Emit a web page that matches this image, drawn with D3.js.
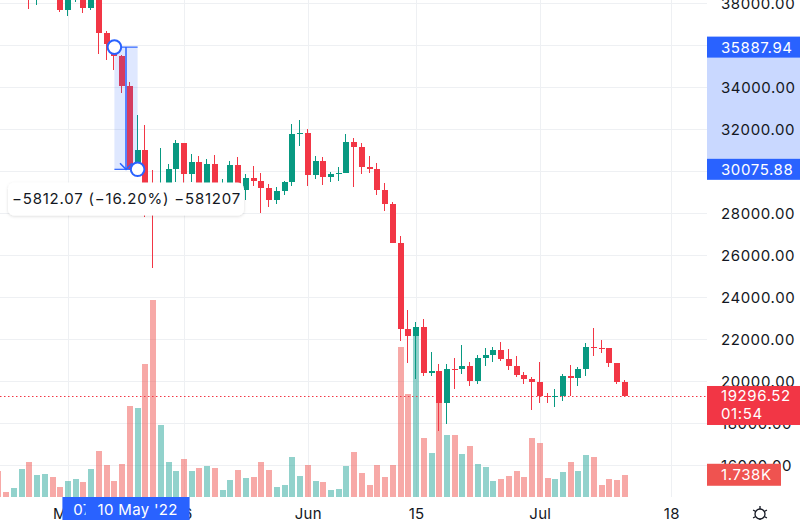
<!DOCTYPE html>
<html><head><meta charset="utf-8">
<script src="https://cdn.jsdelivr.net/npm/d3@7"></script>
<style>
html,body{margin:0;padding:0;background:#fff;overflow:hidden}
svg{display:block;font-family:Inter,"Noto Sans",sans-serif}
</style></head><body>
<svg id="c" width="800" height="520"></svg>
<script>
// ---------- DATA (daily candles) ----------
const dates = [
"2022-04-22","2022-04-23","2022-04-24","2022-04-25","2022-04-26","2022-04-27","2022-04-28","2022-04-29","2022-04-30",
"2022-05-01","2022-05-02","2022-05-03","2022-05-04","2022-05-05","2022-05-06","2022-05-07","2022-05-08","2022-05-09","2022-05-10",
"2022-05-11","2022-05-12","2022-05-13","2022-05-14","2022-05-15","2022-05-16","2022-05-17","2022-05-18","2022-05-19","2022-05-20",
"2022-05-21","2022-05-22","2022-05-23","2022-05-24","2022-05-25","2022-05-26","2022-05-27","2022-05-28","2022-05-29","2022-05-30","2022-05-31",
"2022-06-01","2022-06-02","2022-06-03","2022-06-04","2022-06-05","2022-06-06","2022-06-07","2022-06-08","2022-06-09","2022-06-10",
"2022-06-11","2022-06-12","2022-06-13","2022-06-14","2022-06-15","2022-06-16","2022-06-17","2022-06-18","2022-06-19","2022-06-20",
"2022-06-21","2022-06-22","2022-06-23","2022-06-24","2022-06-25","2022-06-26","2022-06-27","2022-06-28","2022-06-29","2022-06-30",
"2022-07-01","2022-07-02","2022-07-03","2022-07-04","2022-07-05","2022-07-06","2022-07-07","2022-07-08","2022-07-09","2022-07-10",
"2022-07-11","2022-07-12"];
const opens = [
40381,39678,39410,39470,40458,38113,39236,39742,38597,
37630,38468,38525,37729,39690,36552,36014,35468,34039,30077,
31017,29103,29030,29287,30087,31329,29874,30444,28716,30319,
29201,29446,30294,29110,29655,29543,29202,28629,29031,29468,31734,
31802,29799,30468,29704,29833,29907,31371,31125,30205,30110,
29092,28424,26575,22485,22136,22583,20401,20468,18970,20574,
20573,20723,19987,21110,21237,21492,21038,20743,20281,20124,
19942,19279,19252,19315,20236,20175,20564,21624,21594,21591,
20862,19963];
const highs = [
40798,39980,39940,40616,40797,39474,40372,39925,38795,
38675,39167,38651,39980,39845,36675,36146,35510,34243,32659,
32162,30033,31083,30343,31460,31330,30788,30709,30545,30777,
29618,30487,30672,29830,30223,29883,29400,29250,29530,32222,32399,
31982,30689,30675,29938,30179,31765,31555,31328,30698,30386,
29440,28544,26895,23363,22800,22980,21365,20815,20815,21090,
21723,20900,21233,21558,21614,21868,21540,21200,20432,20179,
20918,19462,19648,20354,20750,20675,21838,22527,21951,21592,
20868,20059];
const lows = [
39177,39285,38929,38200,37702,37881,38881,38175,37578,
37387,38052,37500,37670,35571,35258,34785,33713,30034,29730,
27785,25380,28751,28630,29481,29088,29450,28655,28693,28730,
28947,29255,28866,28634,29295,28020,28282,28450,28839,29300,31200,
29300,29594,29351,29485,29523,29880,29219,29843,29921,28850,
28100,26560,21925,20846,20111,20233,20246,17622,17960,19637,
20348,19771,19890,20740,20906,20960,20510,20187,19854,18626,
18975,18978,18781,19055,19305,19762,20257,21189,21338,20653,
19882,19296];
const closes = [
39678,39410,39470,40458,38113,39236,39742,38597,37630,
38468,38525,37729,39690,36552,36014,35468,34039,30077,31017,
29103,29030,29287,30087,31329,29874,30444,28716,30319,29201,
29446,30294,29110,29655,29543,29202,28629,29031,29468,31734,31802,
29799,30468,29704,29833,29907,31371,31125,30205,30110,29092,
28424,26575,22487,22136,22583,20401,20468,18970,20574,20573,
20723,19987,21110,21237,21492,21038,20743,20281,20124,19942,
19279,19252,19315,20236,20175,20564,21624,21594,21591,20862,
19963,19296.52];
// volume in thousands
const volumes = [
2.06,0.38,0.70,2.18,2.78,1.72,1.80,1.56,0.74,
1.24,1.40,1.16,2.22,3.64,2.52,1.24,2.60,7.28,7.08,
10.60,15.72,5.72,2.78,2.04,3.00,2.06,2.28,2.44,2.28,
0.52,1.32,2.12,1.46,1.56,2.76,2.10,0.74,0.92,3.16,1.62,
2.52,1.22,1.16,0.52,0.60,2.44,3.54,1.86,0.92,2.50,
1.56,2.50,11.98,8.18,13.08,4.72,3.46,8.52,4.92,4.92,
3.44,4.04,2.60,2.38,1.22,1.40,1.62,2.04,1.56,4.68,
4.26,1.46,1.40,1.98,2.78,2.06,3.30,3.18,0.90,1.40,
1.34,1.738];
const priceTicks = [16000,18000,20000,22000,24000,26000,28000,30000,32000,34000,36000,38000];
const timeTickDates = ["2022-05-01","2022-05-16","2022-06-01","2022-06-15","2022-07-01","2022-07-18"];
const timeTickLabels = ["May","16","Jun","15","Jul","18"];
const measureDates = ["2022-05-07","2022-05-10"];
const measurePrices = [35887.94, 30075.88];
const measureDateLabels = ["07 May '22","10 May '22"];
const measureText = "\u22125812.07 (\u221216.20%) \u2212581207";
const lastPrice = 19296.52;
const lastPriceLabel = "19296.52";
const countdown = "01:54";
const lastVolumeLabel = "1.738K";

// ---------- LAYOUT ----------
const W = 800, H = 520, plotR = 707, volBase = 496.5;
const UP = "#089981", DOWN = "#f23645", BLUE = "#2962ff", TXT = "#131722", GRID = "#eef0f3";
const LS = 0.6;
const parse = d3.utcParse("%Y-%m-%d");
const x = d3.scaleUtc().domain([parse("2022-05-01"), parse("2022-07-18")]).range([68, 671.3]);
const y = d3.scaleLinear().domain([16000, 38000]).range([465.3, 2.7]);
const yv = d3.scaleLinear().domain([0, 16]).range([volBase, volBase - 200]);
const fmt = d3.format(".2f");

const svg = d3.select("#c");
svg.append("rect").attr("width", W).attr("height", H).attr("fill", "#fff");

// grid
const grid = svg.append("g").attr("shape-rendering", "crispEdges");
grid.selectAll("line.h").data(priceTicks).join("line")
  .attr("x1", 0).attr("x2", plotR)
  .attr("y1", d => Math.round(y(d)) + 0.5).attr("y2", d => Math.round(y(d)) + 0.5)
  .attr("stroke", GRID);
grid.selectAll("line.v").data(timeTickDates).join("line")
  .attr("x1", d => Math.round(x(parse(d))) + 0.5).attr("x2", d => Math.round(x(parse(d))) + 0.5)
  .attr("y1", 0).attr("y2", volBase)
  .attr("stroke", GRID);

const data = dates.map((d, i) => ({
  date: parse(d), o: opens[i], h: highs[i], l: lows[i], c: closes[i], v: volumes[i]
}));

// volume bars
svg.append("g").attr("shape-rendering", "crispEdges")
  .selectAll("rect").data(data).join("rect")
  .attr("x", d => Math.round(x(d.date) - 3))
  .attr("width", 6)
  .attr("y", d => yv(d.v))
  .attr("height", d => volBase - yv(d.v))
  .attr("fill", d => d.c >= d.o ? "rgba(38,166,154,0.5)" : "rgba(239,83,80,0.5)");

// last price dotted line
svg.append("line")
  .attr("x1", 0).attr("x2", plotR)
  .attr("y1", Math.round(y(lastPrice)) + 0.5).attr("y2", Math.round(y(lastPrice)) + 0.5)
  .attr("stroke", DOWN).attr("stroke-width", 1).attr("stroke-dasharray", "1.5 2.5");

// candles
const cg = svg.append("g").attr("shape-rendering", "crispEdges");
const cand = cg.selectAll("g").data(data).join("g");
cand.append("rect")
  .attr("x", d => Math.round(x(d.date) - 3) + 2)
  .attr("width", 1)
  .attr("y", d => y(d.h))
  .attr("height", d => y(d.l) - y(d.h))
  .attr("fill", d => d.c >= d.o ? UP : DOWN);
cand.append("rect")
  .attr("x", d => Math.round(x(d.date) - 3))
  .attr("width", 6)
  .attr("y", d => y(Math.max(d.o, d.c)))
  .attr("height", d => Math.max(1, Math.abs(y(d.o) - y(d.c))))
  .attr("fill", d => d.c >= d.o ? UP : DOWN);

// measuring tool
const mx1 = x(parse(measureDates[0])), mx2 = x(parse(measureDates[1]));
const my1 = y(measurePrices[0]), my2 = y(measurePrices[1]);
const mcx = (mx1 + mx2) / 2;
const mg = svg.append("g");
mg.append("rect").attr("x", mx1).attr("y", my1).attr("width", mx2 - mx1).attr("height", my2 - my1)
  .attr("fill", "rgba(41,98,255,0.15)");
mg.append("line").attr("x1", mx1).attr("x2", mx2).attr("y1", my1).attr("y2", my1).attr("stroke", BLUE).attr("stroke-width", 1.2);
mg.append("line").attr("x1", mx1).attr("x2", mx2).attr("y1", my2).attr("y2", my2).attr("stroke", BLUE).attr("stroke-width", 1.2);
mg.append("line").attr("x1", mcx).attr("x2", mcx).attr("y1", my1).attr("y2", my2).attr("stroke", BLUE).attr("stroke-width", 1.5);
mg.append("path").attr("d", `M${mcx-6},${my2-6} L${mcx},${my2} L${mcx+6},${my2-6}`)
  .attr("fill", "none").attr("stroke", BLUE).attr("stroke-width", 1.5);
mg.selectAll("circle").data([[mx1, my1], [mx2, my2]]).join("circle")
  .attr("cx", d => d[0]).attr("cy", d => d[1]).attr("r", 6.8)
  .attr("fill", "#fff").attr("stroke", BLUE).attr("stroke-width", 2);

// measurement tooltip
const defs = svg.append("defs");
const f = defs.append("filter").attr("id", "sh").attr("x", "-10%").attr("y", "-30%").attr("width", "120%").attr("height", "160%");
f.append("feDropShadow").attr("dx", 0).attr("dy", 1).attr("stdDeviation", 1.5).attr("flood-color", "#000").attr("flood-opacity", 0.14);
svg.append("rect").attr("x", 8).attr("y", 182.5).attr("width", 236).attr("height", 33).attr("rx", 6)
  .attr("fill", "#fff").attr("filter", "url(#sh)");
svg.append("text").attr("x", 12).attr("y", 204).attr("font-size", 15).attr("letter-spacing", 0.8)
  .attr("fill", TXT).text(measureText);

// price axis
svg.append("rect").attr("x", plotR).attr("y", 0).attr("width", W - plotR).attr("height", H).attr("fill", "#fff");
svg.append("rect").attr("x", plotR).attr("y", my1).attr("width", W - plotR).attr("height", my2 - my1)
  .attr("fill", "rgba(41,98,255,0.25)");
const ya = svg.append("g").attr("transform", "translate(721,0)")
  .call(d3.axisRight(y).tickValues(priceTicks).tickFormat(fmt).tickSize(0).tickPadding(0));
ya.select(".domain").remove();
ya.selectAll("text").attr("font-size", 15).attr("letter-spacing", LS)
  .attr("font-family", "Inter,'Noto Sans',sans-serif").attr("fill", TXT).attr("dy", "0.36em");

// measurement price labels
[0, 1].forEach(i => {
  const yy = y(measurePrices[i]);
  svg.append("rect").attr("x", plotR).attr("y", yy - 10.5).attr("width", W - plotR).attr("height", 21).attr("fill", BLUE);
  svg.append("text").attr("x", 721).attr("y", yy + 5.5).attr("font-size", 15).attr("letter-spacing", LS)
    .attr("fill", "#fff").text(fmt(measurePrices[i]));
});
// last price label
const ly = y(lastPrice);
svg.append("rect").attr("x", plotR).attr("y", ly - 10).attr("width", W - plotR).attr("height", 39).attr("fill", DOWN);
svg.append("text").attr("x", 721).attr("y", ly + 5.5).attr("font-size", 15).attr("letter-spacing", LS).attr("fill", "#fff").text(lastPriceLabel);
svg.append("text").attr("x", 721).attr("y", ly + 23.5).attr("font-size", 15).attr("letter-spacing", LS).attr("fill", "#fff").text(countdown);
// last volume label
const lv = yv(volumes[volumes.length - 1]);
svg.append("rect").attr("x", plotR).attr("y", lv - 11).attr("width", 74).attr("height", 22).attr("fill", "#ef5350");
svg.append("text").attr("x", 721).attr("y", lv + 5.5).attr("font-size", 15).attr("letter-spacing", LS).attr("fill", "#fff").text(lastVolumeLabel);

// time axis
const xa = svg.append("g").attr("transform", `translate(0,${volBase + 12})`)
  .call(d3.axisBottom(x).tickValues(timeTickDates.map(parse)).tickFormat((d, i) => timeTickLabels[i]).tickSize(0).tickPadding(0));
xa.select(".domain").remove();
xa.selectAll("text").attr("font-size", 15).attr("letter-spacing", 0.3)
  .attr("font-family", "Inter,'Noto Sans',sans-serif").attr("fill", TXT);

// measurement date labels on time axis
[0, 1].forEach(i => {
  const xx = x(parse(measureDates[i]));
  svg.append("rect").attr("x", xx - 52).attr("y", volBase + 0.5).attr("width", 104).attr("height", 24).attr("fill", BLUE);
  svg.append("text").attr("x", xx).attr("y", volBase + 18.5).attr("text-anchor", "middle").attr("font-size", 15)
    .attr("letter-spacing", 0.3).attr("fill", "#fff").text(measureDateLabels[i]);
});

// settings icon
const ic = svg.append("g").attr("transform", "translate(760,514)").attr("fill", "none").attr("stroke", TXT).attr("stroke-width", 1.3);
ic.append("circle").attr("r", 5);
[0, 60, 120, 180, 240, 300].forEach(a => {
  const r = a * Math.PI / 180;
  ic.append("line").attr("x1", 5 * Math.sin(r)).attr("y1", -5 * Math.cos(r)).attr("x2", 8 * Math.sin(r)).attr("y2", -8 * Math.cos(r));
});
</script>
</body></html>
